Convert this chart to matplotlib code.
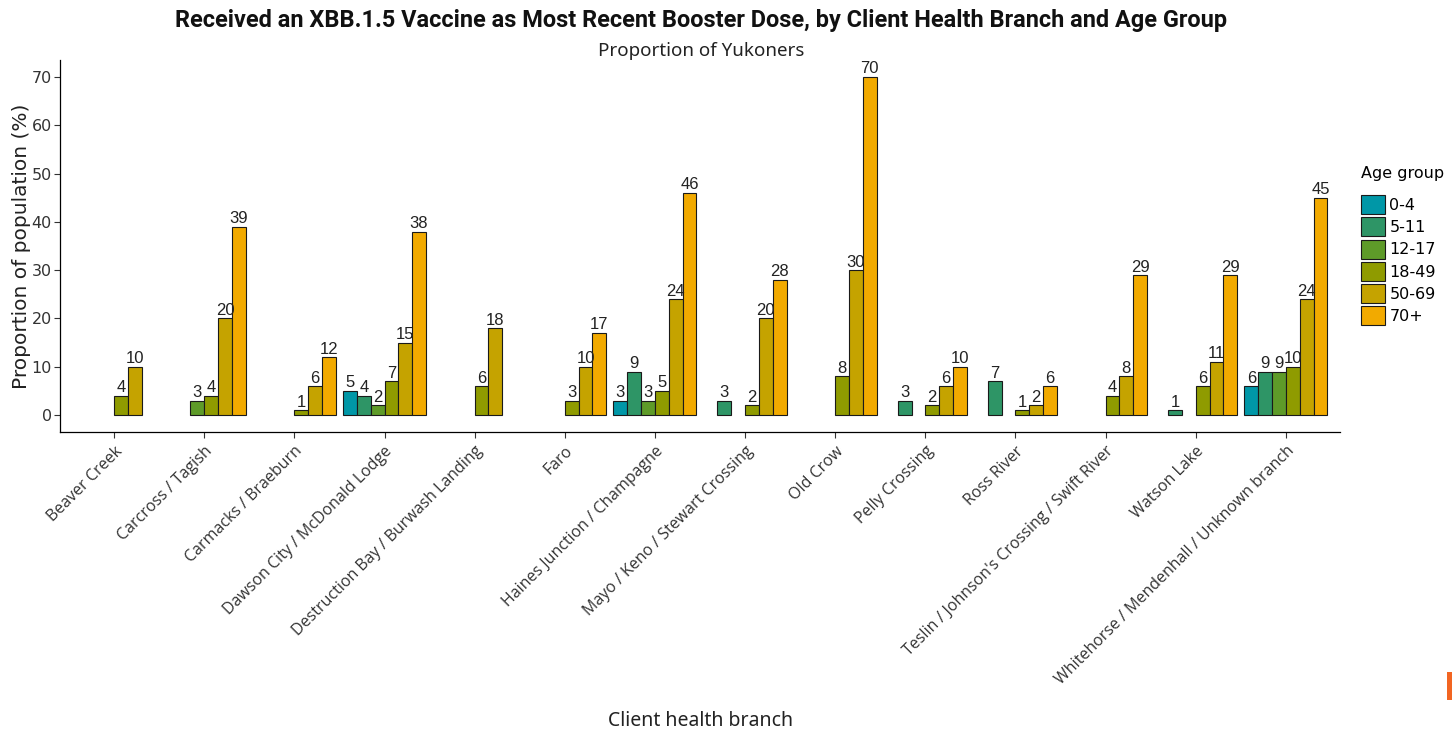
import matplotlib
matplotlib.use("Agg")
import matplotlib.pyplot as plt
from matplotlib.patches import Patch, Rectangle
import numpy as np

branches = [
    "Beaver Creek",
    "Carcross / Tagish",
    "Carmacks / Braeburn",
    "Dawson City / McDonald Lodge",
    "Destruction Bay / Burwash Landing",
    "Faro",
    "Haines Junction / Champagne",
    "Mayo / Keno / Stewart Crossing",
    "Old Crow",
    "Pelly Crossing",
    "Ross River",
    "Teslin / Johnson's Crossing / Swift River",
    "Watson Lake",
    "Whitehorse / Mendenhall / Unknown branch",
]
age_groups = ["0-4", "5-11", "12-17", "18-49", "50-69", "70+"]
colors = ["#0097a7", "#2e9566", "#5e9b29", "#8f9b00", "#c5a300", "#f2aa00"]

# values per age group (None = no bar)
v_0_4   = [None, None, None, 5, None, None, 3, None, None, None, None, None, None, 6]
v_5_11  = [None, None, None, 4, None, None, 9, 3, None, 3, 7, None, 1, 9]
v_12_17 = [None, 3, None, 2, None, None, 3, None, None, None, None, None, None, 9]
v_18_49 = [4, 4, 1, 7, 6, 3, 5, 2, 8, 2, 1, 4, 6, 10]
v_50_69 = [10, 20, 6, 15, 18, 10, 24, 20, 30, 6, 2, 8, 11, 24]
v_70    = [None, 39, 12, 38, None, 17, 46, 28, 70, 10, 6, 29, 29, 45]
series = [v_0_4, v_5_11, v_12_17, v_18_49, v_50_69, v_70]

fig = plt.figure(figsize=(14.52, 7.34), dpi=100)
W, H = 1452, 734
ax = fig.add_axes([60 / W, 1 - 432 / H, 1280 / W, 372 / H])

n = len(age_groups)
total_w = 0.92
bw = total_w / n
x = np.arange(len(branches))
for gi, (vals, col) in enumerate(zip(series, colors)):
    offs = -total_w / 2 + bw * (gi + 0.5)
    for i, v in enumerate(vals):
        if v is None:
            continue
        ax.bar(x[i] + offs, v, width=bw, color=col, edgecolor="#1a1a1a",
               linewidth=0.8, zorder=2)
        ax.text(x[i] + offs, v + 0.1, str(v), ha="center", va="bottom",
                fontsize=12, family="Liberation Sans", color="#222222", zorder=3)

ax.set_xlim(-0.6, len(branches) - 0.4)
ax.set_ylim(-3.5, 73.5)
ax.set_yticks(range(0, 71, 10))
ax.set_xticks(x)
ax.set_xticklabels(branches, rotation=45, ha="right", rotation_mode="anchor",
                   fontsize=11.5, family="Open Sans", color="#333333")
for lab in ax.get_yticklabels():
    lab.set_family("DejaVu Sans")
    lab.set_fontsize(11.5)
    lab.set_color("#333333")
ax.tick_params(axis="both", length=4, width=0.8, color="#333333", pad=2)
ax.tick_params(axis="x", pad=4)
ax.spines["top"].set_visible(False)
ax.spines["right"].set_visible(False)
ax.spines["left"].set_linewidth(0.9)
ax.spines["bottom"].set_linewidth(0.9)

ax.set_ylabel("Proportion of population (%)", fontsize=14.5, family="DejaVu Sans",
              color="#222222", labelpad=0)
fig.text(701 / W, 1 - 721 / H, "Client health branch", ha="center", va="center",
         fontsize=14, family="Noto Sans", color="#222222")
fig.text(701 / W, 1 - 21 / H, "Received an XBB.1.5 Vaccine as Most Recent Booster Dose, by Client Health Branch and Age Group",
         ha="center", va="center", fontsize=16.9, fontweight="bold", family="Roboto",
         color="#111111")
fig.text(701 / W, 1 - 51 / H, "Proportion of Yukoners", ha="center", va="center",
         fontsize=13.5, family="Noto Sans", color="#222222")

handles = [Patch(facecolor=c, edgecolor="#1a1a1a", linewidth=0.8) for c in colors]
leg = fig.legend(handles, age_groups, title="Age group", loc="upper left",
                 bbox_to_anchor=(1355 / W, 1 - 160 / H), frameon=False,
                 handlelength=1.45, handleheight=1.45, labelspacing=0.2,
                 handletextpad=0.3, borderaxespad=0,
                 prop={"family": "DejaVu Sans", "size": 11.5},
                 title_fontproperties={"family": "DejaVu Sans", "size": 11.5})
leg._legend_box.align = "left"
leg._legend_box.sep = 10

fig.patches.append(Rectangle((1447 / W, 1 - 700 / H), 6 / W, 28 / H,
                             transform=fig.transFigure, facecolor="#f26522",
                             edgecolor="none"))

fig.savefig("out.png", dpi=100)
